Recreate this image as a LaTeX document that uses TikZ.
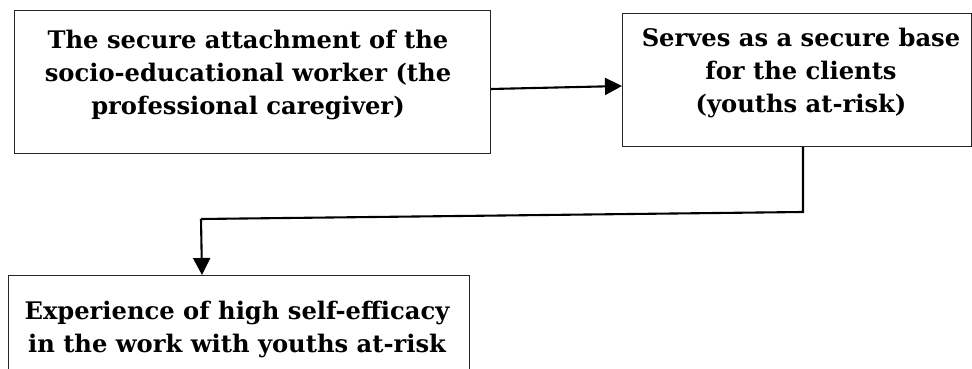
\documentclass[tikz,border=0pt]{standalone}
\usepackage{fontspec}
\setmainfont{DejaVu Serif}
\usetikzlibrary{arrows.meta,calc}
\begin{document}
\begin{tikzpicture}[x=1pt,y=1pt,
  boxstyle/.style={draw=black!85,line width=1pt,inner sep=0pt,anchor=north west},
  lbl/.style={font=\bfseries\fontsize{24.2}{33}\selectfont,align=center,inner sep=0pt},
  arr/.style={line width=2.1pt,-{Triangle[length=17pt,width=17pt]}},
  conn/.style={line width=2.1pt}]
\useasboundingbox (0,0) rectangle (972,369);
\clip (0,0) rectangle (972,369);
\fill[white] (0,0) rectangle (972,369);
% boxes
\node[boxstyle,minimum width=476pt,minimum height=143pt] (b1) at (14,359) {};
\node[boxstyle,minimum width=349pt,minimum height=133pt] (b2) at (622,356) {};
\node[boxstyle,minimum width=461pt,minimum height=120pt] (b3) at (8,94) {};
% texts
\node[lbl] (t1) at (248,294) {The secure attachment of the\\socio-educational worker (the\\professional caregiver)};
\node[lbl] (t2) at (801,296) {Serves as a secure base\\for the clients\\(youths at-risk)};
\node[lbl] (t3) at (237,40) {Experience of high self-efficacy\\in the work with youths at-risk};
% connectors
\draw[arr] ([yshift=-7pt]b1.east) -- ([yshift=-6pt]b2.west);
\coordinate (c1) at (803,157);
\coordinate (c2) at (201,150);
\draw[conn] ([xshift=6pt]b2.south) -- (c1) -- (c2);
\draw[arr] (c2) -- ([xshift=-37pt]b3.north);
\end{tikzpicture}
\end{document}
